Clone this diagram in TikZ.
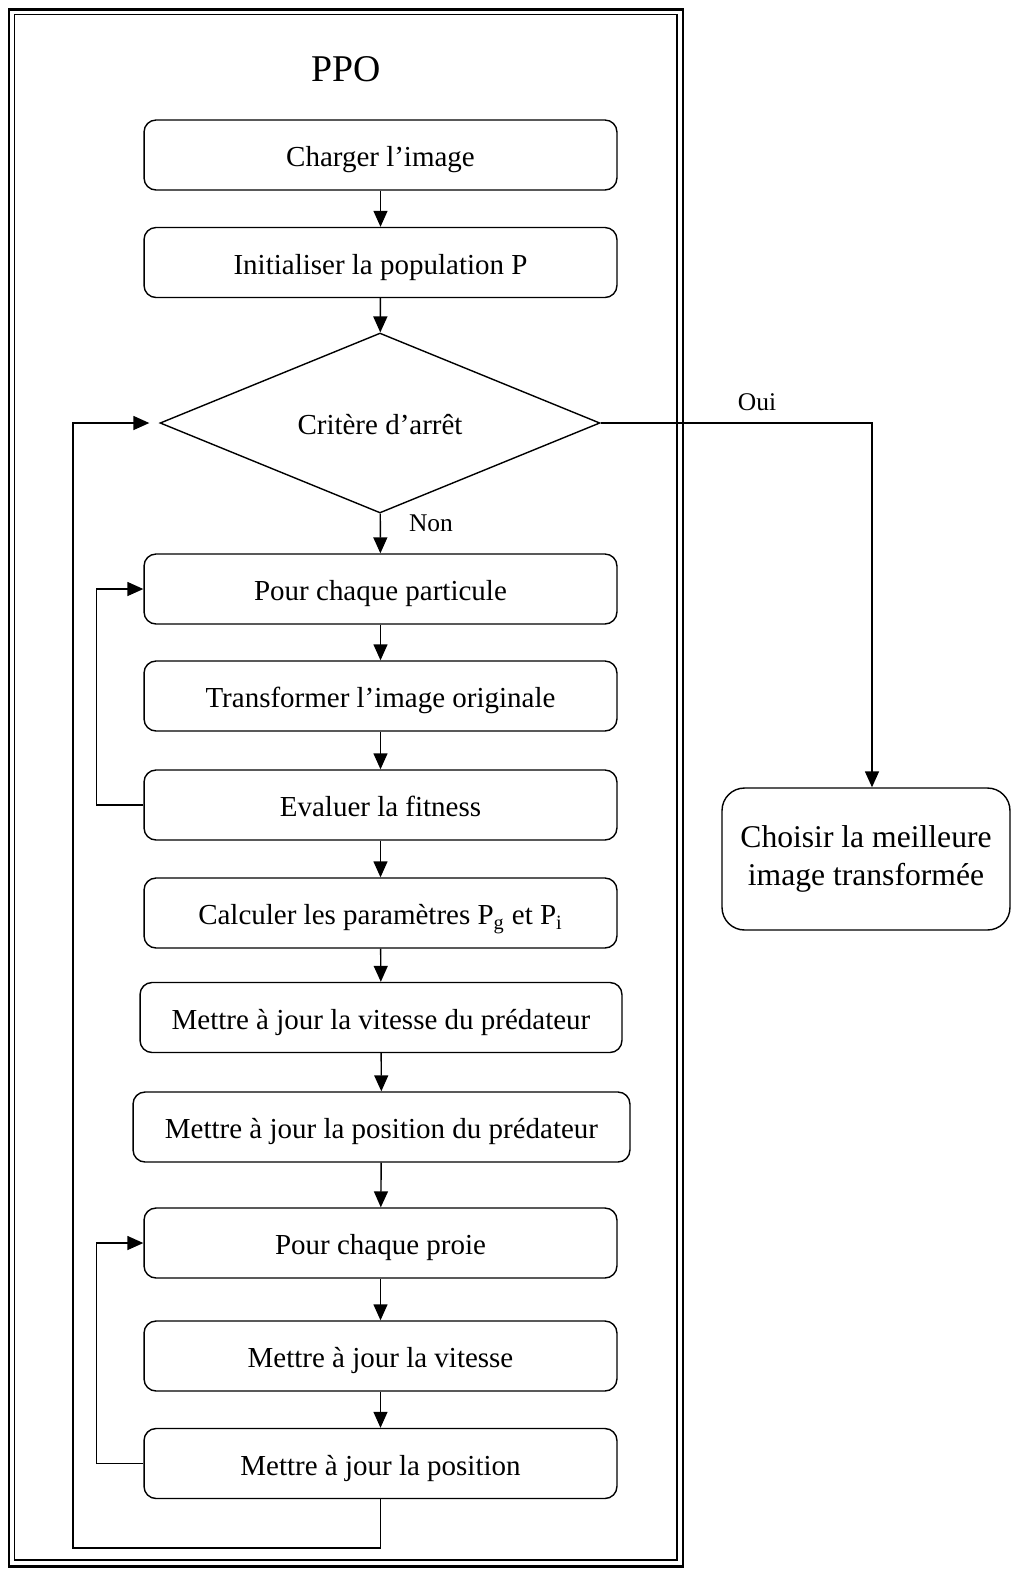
\documentclass[tikz,border=0pt]{standalone}
\usepackage{fontspec}
\setmainfont{Liberation Serif}
\usetikzlibrary{shapes.geometric}
\usetikzlibrary{arrows.meta}

\tikzset{
  stepbox/.style={draw, line width=0.8pt, rounded corners=0.24cm,
    minimum width=9.46cm, minimum height=1.4cm, inner sep=0pt,
    text height=14pt, text depth=0.4pt,
    font=\fontsize{16.5}{19}\selectfont},
  testbox/.style={draw, diamond, line width=0.8pt, aspect=2.44,
    minimum width=8.8cm, minimum height=3.6cm, inner sep=0pt,
    text height=14pt, text depth=0.4pt,
    font=\fontsize{16.5}{19}\selectfont},
  endbox/.style={draw, line width=0.8pt, rounded corners=0.45cm,
    minimum width=5.76cm, minimum height=2.84cm, align=center,
    font=\fontsize{18}{21.5}\selectfont},
  flow/.style={line width=0.8pt, -{Triangle[length=0.32cm,width=0.28cm]}},
  tag/.style={font=\fontsize{14.5}{17}\selectfont},
}

\begin{document}
\begin{tikzpicture}[x=0.02cm, y=-0.02cm]

\useasboundingbox (0,0) rectangle (1012,1570);

%---------------------------------------
% Double frame
%---------------------------------------
\draw[line width=1.7pt] (9,9) rectangle (683,1566);
\draw[line width=0.8pt] (14.5,14.5) rectangle (677,1560);

\node (title) at (346,69) {\fontsize{21.5}{25}\selectfont PPO};

%---------------------------------------
% Steps
%---------------------------------------
\node[stepbox] (load) at (380.5,155) {Charger l’image};
\node[stepbox] (init) at (380.5,262.5) {Initialiser la population P};
\node[testbox] (stop) at (380,423) {Critère d’arrêt};
\node[stepbox] (part) at (380.5,589) {Pour chaque particule};
\node[stepbox] (trans) at (380.5,696) {Transformer l’image originale};
\node[stepbox] (eval) at (380.5,805) {Evaluer la fitness};
\node[stepbox] (calc) at (380.5,913) {Calculer les paramètres P\textsubscript{g} et P\textsubscript{i}};
\node[stepbox, minimum width=9.64cm] (vitp) at (381,1017.5) {Mettre à jour la vitesse du prédateur};
\node[stepbox, minimum width=9.94cm] (posp) at (381.5,1127) {Mettre à jour la position du prédateur};
\node[stepbox] (proie) at (380.5,1243) {Pour chaque proie};
\node[stepbox] (vit) at (380.5,1356) {Mettre à jour la vitesse};
\node[stepbox] (pos) at (380.5,1463.5) {Mettre à jour la position};

% Result box
\node[endbox] (best) at (866,859) {Choisir la meilleure\\image transformée};

%---------------------------------------
% Connectors
%---------------------------------------
\draw[flow] (load) -- (init);
\draw[flow] (init) -- (stop);
\draw[flow] (stop) -- (part);
\draw[flow] (part) -- (trans);
\draw[flow] (trans) -- (eval);
\draw[flow] (eval) -- (calc);
\draw[flow] (calc) -- (vitp);
\draw[flow] (vitp) -- (posp);
\draw[flow] (posp) -- (proie);
\draw[flow] (proie) -- (vit);
\draw[flow] (vit) -- (pos);

\node[tag] (non) at (431,523) {Non};
\node[tag] (oui) at (757,402) {Oui};

% Oui branch
\draw[flow] (stop.east) -| ([xshift=0.12cm]best.north);

% inner loops
\draw[flow] (eval.west) -- ++(-47,0) |- (part.west);
\draw[flow] (pos.west) -- ++(-47,0) |- (proie.west);

% outer loop
\coordinate (back) at (73,1548);
\draw[flow, shorten >=0.2cm] (pos.south) |- (back) |- (stop.west);

\end{tikzpicture}
\end{document}
